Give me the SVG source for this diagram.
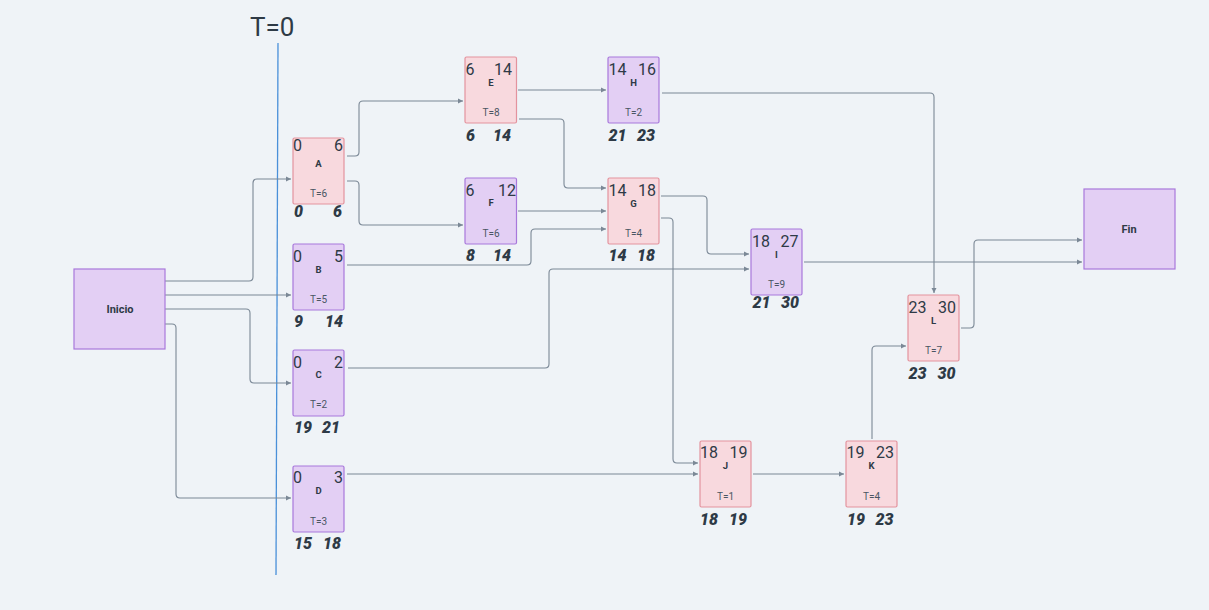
<svg xmlns="http://www.w3.org/2000/svg" width="1209" height="610" viewBox="0 0 1209 610">
<style>
.bg{fill:#eff3f7}
.pk{fill:#f8d9de;stroke:#e3939e;stroke-width:1.2}
.pu{fill:#e3cff4;stroke:#a878db;stroke-width:1.2}
.num{font-family:Roboto,"Liberation Sans",sans-serif;font-size:16px;fill:#2e3a46}
.bn{font-family:Roboto,"Liberation Sans",sans-serif;font-size:16px;font-weight:900;font-style:italic;fill:#2e3a46}
.lt{font-family:Roboto,"Liberation Sans",sans-serif;font-size:9.5px;font-weight:bold;fill:#2e3a46;text-anchor:middle}
.t{font-family:Roboto,"Liberation Sans",sans-serif;font-size:10px;fill:#4a5663;text-anchor:middle}
.e{text-anchor:end}
.big{font-family:Roboto,"Liberation Sans",sans-serif;font-size:11px;font-weight:bold;fill:#2e3a46;text-anchor:middle}
.c path{fill:none;stroke:#7b8896;stroke-width:1.1;marker-end:url(#ar)}
</style>
<defs>
<marker id="ar" markerUnits="userSpaceOnUse" markerWidth="6" markerHeight="6" refX="5" refY="3" orient="auto"><path d="M0,0.5 L5,3 L0,5.5 z" fill="#7b8896"/></marker>
</defs>
<rect class="bg" x="0" y="0" width="1209" height="610"/>
<g id="t0">
<text x="250" y="36" font-family="Roboto,'Liberation Sans',sans-serif" font-size="26" fill="#2e3a46">T=0</text>
<line x1="278" y1="43" x2="276" y2="575" stroke="#4a90d9" stroke-width="1.3"/>
</g>
<g class="c" id="connectors">
<path d="M165,281 H249 Q253,281 253,277 V183 Q253,179 257,179 H291"/>
<path d="M165,295 H291"/>
<path d="M165,309 H246 Q250,309 250,313 V379 Q250,383 254,383 H291"/>
<path d="M165,324 H172 Q176,324 176,328 V494 Q176,498 180,498 H291"/>
<path d="M347,156 H355 Q359,156 359,152 V105 Q359,101 363,101 H463"/>
<path d="M347,181 H355 Q359,181 359,185 V221 Q359,225 363,225 H463"/>
<path d="M518,90 H606"/>
<path d="M519,119 H560 Q564,119 564,123 V184 Q564,188 568,188 H606"/>
<path d="M518,211 H606"/>
<path d="M347,265 H527 Q531,265 531,261 V233 Q531,229 535,229 H606"/>
<path d="M662,93 H930 Q934,93 934,97 V293"/>
<path d="M661,196 H703 Q707,196 707,200 V250 Q707,254 711,254 H749"/>
<path d="M348,368 H545 Q549,368 549,364 V273 Q549,269 553,269 H749"/>
<path d="M661,218 H669 Q673,218 673,222 V459 Q673,463 677,463 H698"/>
<path d="M347,474 H698"/>
<path d="M753,474 H844"/>
<path d="M872,439 V350 Q872,346 876,346 H906"/>
<path d="M804,262 H1082"/>
<path d="M961,328 H970 Q974,328 974,324 V244 Q974,240 978,240 H1082"/>
</g>
<g id="inicio"><rect class="pu" x="74" y="269" width="91" height="80"/><text class="big" x="120" y="313">Inicio</text></g>
<g id="fin"><rect class="pu" x="1084" y="189" width="91" height="80"/><text class="big" x="1129" y="233">Fin</text></g>
<g id="A"><rect class="pk" x="293" y="138" width="51" height="66" rx="1.5"/>
<text class="num" x="293" y="151">0</text><text class="num e" x="343" y="151">6</text>
<text class="lt" x="318.5" y="167">A</text><text class="t" x="318.5" y="197">T=6</text>
<text class="bn" x="294" y="217">0</text><text class="bn e" x="342" y="217">6</text></g>
<g id="B"><rect class="pu" x="293" y="244" width="51" height="66" rx="1.5"/>
<text class="num" x="293" y="262">0</text><text class="num e" x="343" y="262">5</text>
<text class="lt" x="318.5" y="273">B</text><text class="t" x="318.5" y="303">T=5</text>
<text class="bn" x="294" y="327">9</text><text class="bn e" x="343" y="327">14</text></g>
<g id="C"><rect class="pu" x="293" y="350" width="51" height="66" rx="1.5"/>
<text class="num" x="293" y="368">0</text><text class="num e" x="343" y="368">2</text>
<text class="lt" x="318.5" y="378">C</text><text class="t" x="318.5" y="408">T=2</text>
<text class="bn" x="294" y="433">19</text><text class="bn e" x="340" y="433">21</text></g>
<g id="D"><rect class="pu" x="293" y="466" width="51" height="66" rx="1.5"/>
<text class="num" x="293" y="483">0</text><text class="num e" x="343" y="483">3</text>
<text class="lt" x="318.5" y="494">D</text><text class="t" x="318.5" y="525">T=3</text>
<text class="bn" x="294" y="549">15</text><text class="bn e" x="341" y="549">18</text></g>
<g id="E"><rect class="pk" x="465" y="57" width="51.5" height="66" rx="1.5"/>
<text class="num" x="465.5" y="75">6</text><text class="num e" x="512" y="75">14</text>
<text class="lt" x="491" y="86">E</text><text class="t" x="491" y="116">T=8</text>
<text class="bn" x="466" y="141">6</text><text class="bn e" x="511" y="141">14</text></g>
<g id="F"><rect class="pu" x="465" y="178" width="51.5" height="66" rx="1.5"/>
<text class="num" x="465.5" y="196">6</text><text class="num e" x="516" y="196">12</text>
<text class="lt" x="491" y="206">F</text><text class="t" x="491" y="237">T=6</text>
<text class="bn" x="466" y="261">8</text><text class="bn e" x="511" y="261">14</text></g>
<g id="H"><rect class="pu" x="608" y="57" width="51" height="66" rx="1.5"/>
<text class="num" x="608.5" y="75">14</text><text class="num e" x="656" y="75">16</text>
<text class="lt" x="633.5" y="86">H</text><text class="t" x="633.5" y="116">T=2</text>
<text class="bn" x="608.5" y="141">21</text><text class="bn e" x="655" y="141">23</text></g>
<g id="G"><rect class="pk" x="608" y="178" width="51" height="66" rx="1.5"/>
<text class="num" x="608.5" y="196">14</text><text class="num e" x="656" y="196">18</text>
<text class="lt" x="633.5" y="207">G</text><text class="t" x="633.5" y="237">T=4</text>
<text class="bn" x="608.5" y="261">14</text><text class="bn e" x="655" y="261">18</text></g>
<g id="I"><rect class="pu" x="751" y="229" width="51" height="66" rx="1.5"/>
<text class="num" x="752" y="247">18</text><text class="num e" x="798.5" y="247">27</text>
<text class="lt" x="776.5" y="258">I</text><text class="t" x="776.5" y="288">T=9</text>
<text class="bn" x="752.5" y="308">21</text><text class="bn e" x="799" y="308">30</text></g>
<g id="J"><rect class="pk" x="700" y="441" width="51" height="66" rx="1.5"/>
<text class="num" x="700" y="458">18</text><text class="num e" x="747.5" y="458">19</text>
<text class="lt" x="725.5" y="469">J</text><text class="t" x="725.5" y="500">T=1</text>
<text class="bn" x="700" y="525">18</text><text class="bn e" x="747" y="525">19</text></g>
<g id="K"><rect class="pk" x="846" y="441" width="51" height="66" rx="1.5"/>
<text class="num" x="846.5" y="458">19</text><text class="num e" x="894" y="458">23</text>
<text class="lt" x="871.5" y="469">K</text><text class="t" x="871.5" y="500">T=4</text>
<text class="bn" x="847" y="525">19</text><text class="bn e" x="893.5" y="525">23</text></g>
<g id="L"><rect class="pk" x="908" y="295" width="51" height="66" rx="1.5"/>
<text class="num" x="908.5" y="313">23</text><text class="num e" x="956" y="313">30</text>
<text class="lt" x="933.5" y="324">L</text><text class="t" x="933.5" y="354">T=7</text>
<text class="bn" x="908.5" y="379">23</text><text class="bn e" x="955.5" y="379">30</text></g>
</svg>
